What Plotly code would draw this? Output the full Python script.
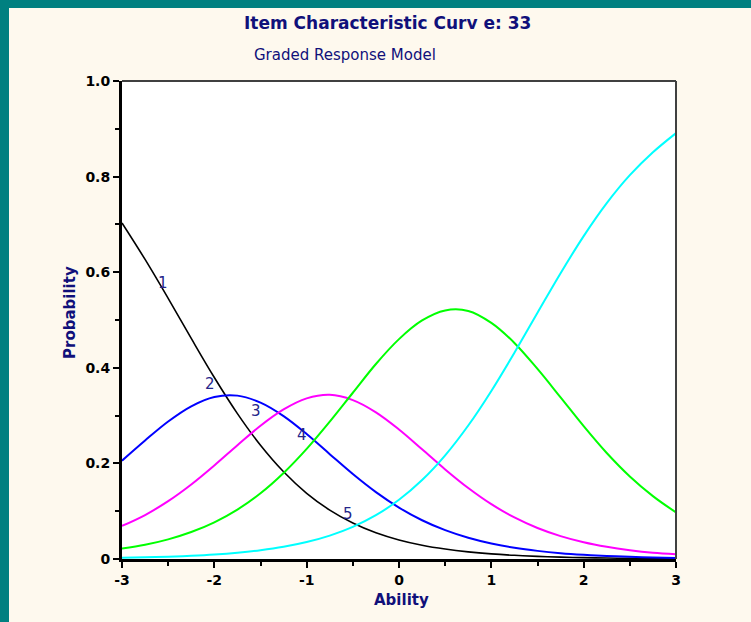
import plotly.graph_objects as go

# ---- data ----
ability = [-3.0, -2.75, -2.5, -2.25, -2.0, -1.75, -1.5, -1.25, -1.0, -0.75, -0.5, -0.25,
           0.0, 0.25, 0.5, 0.75, 1.0, 1.25, 1.5, 1.75, 2.0, 2.25, 2.5, 2.75, 3.0]
cat1 = [0.7030, 0.6267, 0.5453, 0.4614, 0.3797, 0.3042, 0.2380, 0.1825, 0.1375, 0.1023,
        0.0753, 0.0549, 0.0399, 0.0288, 0.0208, 0.0149, 0.0107, 0.0077, 0.0055, 0.0039,
        0.0028, 0.0020, 0.0014, 0.0010, 0.0007]
cat2 = [0.2058, 0.2480, 0.2877, 0.3195, 0.3390, 0.3418, 0.3272, 0.2990, 0.2614, 0.2193,
        0.1777, 0.1399, 0.1075, 0.0811, 0.0603, 0.0444, 0.0324, 0.0235, 0.0170, 0.0122,
        0.0088, 0.0063, 0.0045, 0.0033, 0.0023]
cat3 = [0.0692, 0.0920, 0.1210, 0.1559, 0.1957, 0.2380, 0.2788, 0.3129, 0.3360, 0.3435,
        0.3325, 0.3069, 0.2710, 0.2296, 0.1874, 0.1485, 0.1147, 0.0869, 0.0648, 0.0478,
        0.0349, 0.0254, 0.0184, 0.0132, 0.0100]
cat4 = [0.0220, 0.0298, 0.0411, 0.0564, 0.0768, 0.1034, 0.1375, 0.1800, 0.2304, 0.2874,
        0.3478, 0.4080, 0.4600, 0.4990, 0.5200, 0.5190, 0.4940, 0.4520, 0.3976, 0.3382,
        0.2780, 0.2218, 0.1727, 0.1316, 0.0975]
cat5 = [0.0025, 0.0035, 0.0049, 0.0068, 0.0095, 0.0133, 0.0185, 0.0256, 0.0355, 0.0490,
        0.0673, 0.0917, 0.1238, 0.1651, 0.2168, 0.2792, 0.3516, 0.4315, 0.5151, 0.5979,
        0.6755, 0.7445, 0.8030, 0.8509, 0.8910]
series = [cat1, cat2, cat3, cat4, cat5]
series_names = ["1", "2", "3", "4", "5"]
colors = ["#000000", "#0000FF", "#FF00FF", "#00FF00", "#00FFFF"]
widths = [1.6, 2, 2, 2, 2]

# curve number labels (ability, probability)
label_x = [-2.556, -2.047, -1.549, -1.050, -0.552]
label_y = [0.577, 0.366, 0.309, 0.259, 0.094]

x_ticks = [-3, -2, -1, 0, 1, 2, 3]
x_ticktext = ["-3", "-2", "-1", "0", "1", "2", "3"]
y_ticks = [0, 0.2, 0.4, 0.6, 0.8, 1.0]
y_ticktext = ["0", "0.2", "0.4", "0.6", "0.8", "1.0"]

NAVY = "#10107a"
FONT = "DejaVu Sans"

fig = go.Figure()
for ys, nm, c, w in zip(series, series_names, colors, widths):
    fig.add_trace(go.Scatter(x=ability, y=ys, mode="lines", name=nm,
                             line=dict(color=c, width=w, shape="spline", smoothing=1.0),
                             hoverinfo="x+y+name"))

annotations = []
for t, lx, ly in zip(series_names, label_x, label_y):
    annotations.append(dict(x=lx, y=ly, xref="x", yref="y", text=t, showarrow=False,
                            font=dict(family=FONT, size=15, color="#25258a")))

annotations += [
    dict(x=0.480, y=1.1213, xref="paper", yref="paper", text="Item Characteristic Curv e: 33",
         showarrow=False, xanchor="center", yanchor="middle",
         font=dict(family=FONT, size=17, color=NAVY, weight="bold")),
    dict(x=0.4025, y=1.0544, xref="paper", yref="paper", text="Graded Response Model",
         showarrow=False, xanchor="center", yanchor="middle",
         font=dict(family=FONT, size=15, color=NAVY)),
    dict(x=-0.0939, y=0.5167, xref="paper", yref="paper", text="Probability",
         showarrow=False, textangle=-90, xanchor="center", yanchor="middle",
         font=dict(family=FONT, size=15, color=NAVY, weight="bold")),
    dict(x=0.5054, y=-0.0858, xref="paper", yref="paper", text="Ability",
         showarrow=False, xanchor="center", yanchor="middle",
         font=dict(family=FONT, size=15, color=NAVY, weight="bold")),
]

L, R, T, B = 122, 75, 81, 63
PW, PH = 751 - L - R, 622 - T - B
px2x = lambda px: (px - L) / PW
py2y = lambda py: (622 - B - py) / PH

shapes = [
    # teal frame (left and top bands)
    dict(type="rect", xref="paper", yref="paper", x0=px2x(0), x1=px2x(9), y0=py2y(622), y1=py2y(0),
         fillcolor="#008080", line=dict(width=0), layer="above"),
    dict(type="rect", xref="paper", yref="paper", x0=px2x(0), x1=px2x(751), y0=py2y(8), y1=py2y(0),
         fillcolor="#008080", line=dict(width=0), layer="above"),
    # top and right frame of the plot area
    dict(type="line", xref="paper", yref="paper", x0=0, x1=1, y0=1, y1=1,
         line=dict(color="#404040", width=2), layer="above"),
    dict(type="line", xref="paper", yref="paper", x0=1, x1=1, y0=0, y1=1,
         line=dict(color="#404040", width=2), layer="above"),
]

fig.update_layout(
    width=751, height=622,
    margin=dict(l=L, r=R, t=T, b=B),
    paper_bgcolor="#FEF9EE",
    plot_bgcolor="#FFFFFF",
    showlegend=False,
    annotations=annotations,
    shapes=shapes,
    xaxis=dict(range=[-3, 3], tickvals=x_ticks, ticktext=x_ticktext, ticks="outside", ticklen=6,
               tickwidth=2, tickcolor="black", showline=True, linecolor="black", linewidth=3,
               showgrid=False, zeroline=False,
               minor=dict(ticks="outside", ticklen=4, tickwidth=2, tickcolor="black", dtick=0.5,
                          showgrid=False),
               tickfont=dict(family=FONT, size=14, color="black", weight="bold")),
    yaxis=dict(range=[0, 1], tickvals=y_ticks, ticktext=y_ticktext, ticks="outside", ticklen=6,
               tickwidth=2, tickcolor="black", showline=True, linecolor="black", linewidth=3,
               showgrid=False, zeroline=False,
               minor=dict(ticks="outside", ticklen=4, tickwidth=2, tickcolor="black", dtick=0.1,
                          showgrid=False),
               tickfont=dict(family=FONT, size=14, color="black", weight="bold")),
)

fig.write_html("out.html")
